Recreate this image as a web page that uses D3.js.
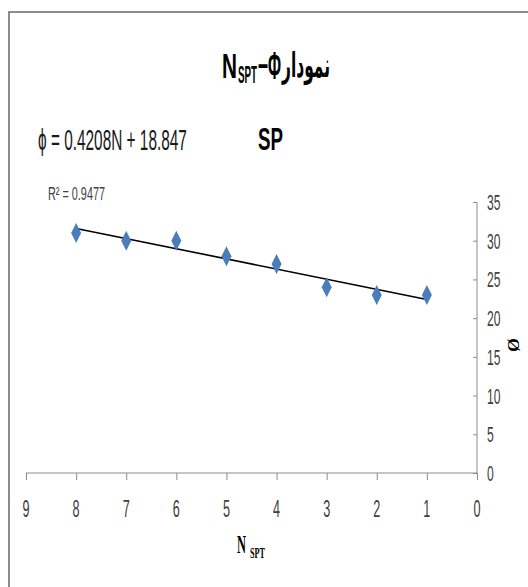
<!DOCTYPE html>
<html>
<head>
<meta charset="utf-8">
<script src="https://cdn.jsdelivr.net/npm/d3@7"></script>
<style>
  body { margin: 0; background: #fff; }
  text { font-family: "Liberation Sans", Arial, sans-serif; }
</style>
</head>
<body>
<script>
'use strict';

// data
const nValues = [8, 7, 6, 5, 4, 3, 2, 1];
const phiValues = [31, 30, 30, 28, 27, 24, 23, 23];
const xTicks = [9, 8, 7, 6, 5, 4, 3, 2, 1, 0];
const yTicks = [0, 5, 10, 15, 20, 25, 30, 35];
const equationText = "ϕ = 0.4208N + 18.847";
const r2Text = "R² = 0.9477";

(function() {
    const measurements = {
        width: 528,
        height: 587,
        left: 26,
        right: 477,
        top: 202,
        bottom: 473
    };

    const svg = d3.select('body')
        .append('svg')
        .attr('width', measurements.width)
        .attr('height', measurements.height);

    // frame (top + left edge visible)
    svg.append('path')
        .attr('d', 'M9,' + measurements.height + ' V12 H' + measurements.width)
        .attr('fill', 'none')
        .attr('stroke', '#8c8c8c')
        .attr('stroke-width', 2);

    const xScale = d3.scaleLinear().domain([9, 0]).range([measurements.left, measurements.right]);
    const yScale = d3.scaleLinear().domain([0, 35]).range([measurements.bottom, measurements.top]);

    // the original font is very condensed, so squeeze text to a width
    function fitText(x, y, txt, size, targetW, anchor, extra) {
        const t = svg.append('text')
            .attr('text-anchor', anchor || 'start')
            .style('font-size', size + 'px')
            .text(txt);
        if (extra) extra(t);
        const len = t.node().getComputedTextLength();
        const sx = targetW ? targetW / len : 1;
        t.attr('transform', 'translate(' + x + ',' + y + ') scale(' + sx + ',1)');
        return t;
    }

    function squeeze(x, y, txt, size, sx, anchor, extra) {
        const t = svg.append('text')
            .attr('transform', 'translate(' + x + ',' + y + ') scale(' + sx + ',1)')
            .attr('text-anchor', anchor || 'start')
            .style('font-size', size + 'px')
            .text(txt);
        if (extra) extra(t);
        return t;
    }

    // x axis
    const xAxis = d3.axisBottom(xScale).tickValues(xTicks).tickSize(7).tickFormat('');
    const gx = svg.append('g')
        .attr('transform', 'translate(0,' + measurements.bottom + ')')
        .call(xAxis);
    gx.select('.domain').attr('stroke', '#8c8c8c').attr('d', 'M' + measurements.left + ',0H' + measurements.right);
    gx.selectAll('.tick line').attr('stroke', '#8c8c8c');
    xTicks.forEach((v) => {
        squeeze(xScale(v), 517, String(v), 23, 0.55, 'middle', (t) => t.attr('fill', '#404040'));
    });

    // y axis on the right, ticks pointing left
    const yAxis = d3.axisLeft(yScale).tickValues(yTicks).tickSize(4).tickFormat('');
    const gy = svg.append('g')
        .attr('transform', 'translate(' + measurements.right + ',0)')
        .call(yAxis);
    gy.select('.domain').attr('stroke', '#8c8c8c').attr('d', 'M0,' + measurements.top + 'V' + measurements.bottom);
    gy.selectAll('.tick line').attr('stroke', '#8c8c8c');
    yTicks.forEach((v) => {
        squeeze(measurements.right + 10, yScale(v) + 8, String(v), 22, 0.55, 'start', (t) => t.attr('fill', '#404040'));
    });

    // trend line: least squares fit of the points
    const mx = d3.mean(nValues), my = d3.mean(phiValues);
    const sxy = d3.sum(nValues, (x, i) => (x - mx) * (phiValues[i] - my));
    const sxx = d3.sum(nValues, (x) => (x - mx) * (x - mx));
    const slope = sxy / sxx;
    const intercept = my - slope * mx;
    const xExt = d3.extent(nValues);
    svg.append('line')
        .attr('x1', xScale(xExt[1])).attr('y1', yScale(slope * xExt[1] + intercept))
        .attr('x2', xScale(xExt[0])).attr('y2', yScale(slope * xExt[0] + intercept))
        .attr('stroke', '#000')
        .attr('stroke-width', 1.6);

    // diamond markers
    svg.selectAll('.dot')
        .data(nValues)
        .enter()
        .append('path')
        .attr('class', 'dot')
        .attr('d', 'M0,-10 L5,0 L0,10 L-5,0 Z')
        .attr('transform', (d, i) => 'translate(' + xScale(d) + ',' + yScale(phiValues[i]) + ')')
        .attr('fill', '#4a7ebb');

    // title
    const bold = (t) => t.style('font-weight', 'bold');
    fitText(222, 78, 'N', 36, 15, 'start', bold);
    fitText(238, 83, 'SPT', 23, 19, 'start', bold);
    fitText(258, 76, '–', 36, 10, 'start', bold);
    fitText(268, 79, 'Φ', 38, 13, 'start', bold);
    fitText(282, 77, 'نمودار', 34, 48, 'start', (t) => t.style('font-family', '"DejaVu Sans", sans-serif').style('font-weight', 'bold'));

    // equation, SP and R²
    fitText(38, 150, equationText, 30, 149, 'start', (t) => t.attr('fill', '#1a1a1a'));
    fitText(258, 150, 'SP', 32, 25, 'start', bold);
    fitText(48, 200, r2Text, 18, 57, 'start', (t) => t.attr('fill', '#404040'));

    // axis titles
    const serifBold = (t) => t.style('font-family', '"Liberation Serif", serif').style('font-weight', 'bold');
    fitText(237, 553, 'N', 25, 9, 'start', serifBold);
    fitText(250, 558, 'SPT', 15, 15, 'start', serifBold);
    svg.append('text')
        .attr('transform', 'translate(508,345) rotate(90) scale(1,0.9)')
        .attr('text-anchor', 'middle')
        .style('font-family', '"Liberation Serif", serif')
        .style('font-weight', 'bold')
        .style('font-size', '18px')
        .text('Ø');
})();
</script>
</body>
</html>
